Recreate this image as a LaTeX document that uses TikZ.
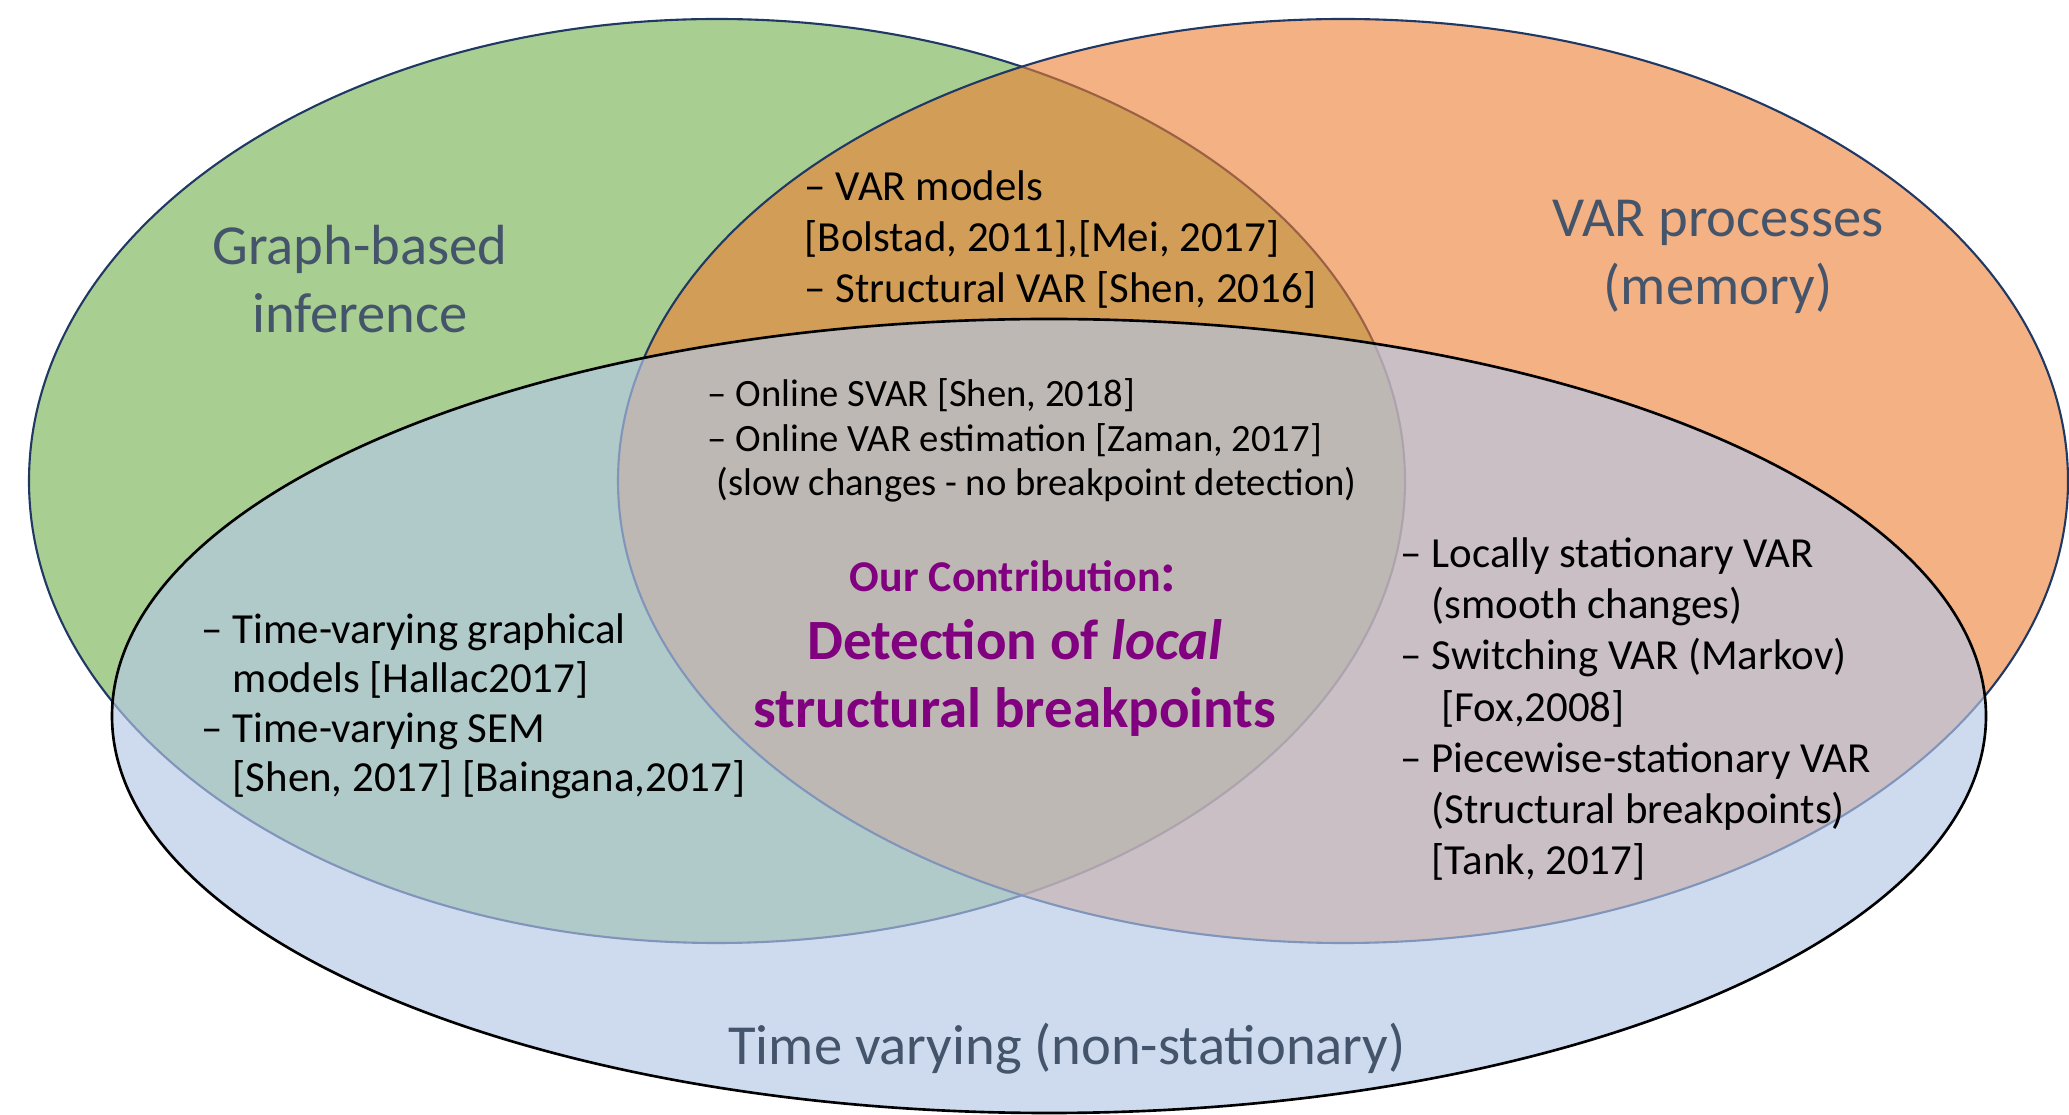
\documentclass[tikz,border=0pt]{standalone}
\usepackage{fontspec}
\setmainfont{Carlito}

\definecolor{setgreen}{HTML}{70AD47}
\definecolor{setorange}{HTML}{ED7D31}
\definecolor{setblue}{HTML}{B4C7E7}
\definecolor{rimnavy}{HTML}{203864}
\definecolor{titlegray}{HTML}{44546A}
\definecolor{ourpurple}{HTML}{800080}

\tikzstyle{setrim} = [draw=rimnavy, line width=0.6pt]
\tikzstyle{settitle} = [
        text=titlegray, align=center, inner sep=0pt, anchor=base,
        font=\fontsize{16.1}{19.4}\selectfont
    ]
\tikzstyle{refs} = [
        align=left, inner sep=0pt, anchor=base west,
        font=\fontsize{12.2}{14.6}\selectfont
    ]
\tikzstyle{contrib} = [
        text=ourpurple, align=center, inner sep=0pt, anchor=base
    ]

\begin{document}
\begin{tikzpicture}
        \useasboundingbox (0,0) rectangle (20.69,-11.15);
        \draw [setrim, fill=setgreen, fill opacity=0.6]
            (7.17,-4.81) ellipse [x radius=6.88, y radius=4.62];
        \draw [setrim, fill=setorange, fill opacity=0.6]
            (13.43,-4.81) ellipse [x radius=7.25, y radius=4.62];
        \draw [draw=black, line width=0.75pt, fill=setblue, fill opacity=0.65]
            (10.49,-7.16) ellipse [x radius=9.37, y radius=3.97];
        \node [settitle] (graph) at (3.60,-3.33) {Graph-based\\inference};
        \node [settitle] (memory) at (17.18,-3.05) {VAR processes\\(memory)};
        \node [settitle] (timevar) at (10.67,-10.65) {Time varying (non-stationary)};
        \node [refs] (varmodels) at (8.04,-3.03)
            {-- VAR models\\
             {}[Bolstad, 2011],[Mei, 2017]\\
             -- Structural VAR [Shen, 2016]};
        \node [refs, font=\fontsize{11}{12.7}\selectfont] (online) at (7.07,-4.96)
            {-- Online SVAR [Shen, 2018]\\
             -- Online VAR estimation [Zaman, 2017]\\
             \ (slow changes - no breakpoint detection)};
        \node [refs, font=\fontsize{12.2}{14.1}\selectfont] (tvgraph) at (2.01,-7.92)
            {-- Time-varying graphical\\
             \hphantom{-- }models [Hallac2017]\\
             -- Time-varying SEM\\
             \hphantom{-- }[Shen, 2017] [Baingana,2017]};
        \node [refs] (localvar) at (14.00,-8.75)
            {-- Locally stationary VAR\\
             \hphantom{-- }(smooth changes)\\
             -- Switching VAR (Markov)\\
             \hphantom{-- }\ [Fox,2008]\\
             -- Piecewise-stationary VAR\\
             \hphantom{-- }(Structural breakpoints)\\
             \hphantom{-- }[Tank, 2017]};
        \node [contrib, font=\bfseries\fontsize{12.5}{15}\selectfont] (ours) at (10.13,-5.92)
            {Our Contribution{\fontsize{16}{19}\selectfont:}};
        \node [contrib, font=\bfseries\fontsize{16.2}{19.4}\selectfont] (detect) at (10.15,-7.28)
            {Detection of \textit{local}\\structural breakpoints};
    \end{tikzpicture}
\end{document}
